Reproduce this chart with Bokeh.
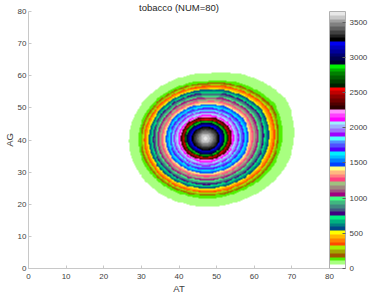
import numpy as np
from bokeh.plotting import figure
from bokeh.models import Range1d, FixedTicker, ColorBar, LinearColorMapper
from bokeh.embed import file_html
from bokeh.resources import INLINE

# ---- data ----
title_text = "tobacco (NUM=80)"
x_label = "AT"
y_label = "AG"
axis_ticks = [0, 10, 20, 30, 40, 50, 60, 70, 80]
cbar_ticks = [0, 500, 1000, 1500, 2000, 2500, 3000, 3500]
z_max = 3650

# peak position (AT, AG)
peak_at = 47.1
peak_ag = 40.5

# radial profile of the density (canonical radius vs value)
profile_r = [0.0, 1.5, 3.9, 5.3, 6.1, 7.2, 12.0, 16.8, 19.2, 20.1, 23.1, 26.0, 200.0]
profile_v = [3640, 3520, 3206, 2853, 2510, 2172, 1340, 510, 161, 107, 54, 0, 0]

# outer boundary radius by direction (degrees)
dir_angle = [0, 30, 60, 90, 120, 150, 180, 210, 240, 270, 300, 330]
dir_radius = [23.6, 24.6, 22.5, 20.0, 19.8, 19.9, 20.1, 20.6, 21.0, 21.1, 21.6, 22.8]

# colour bands, low to high
band_colors = [
    "#ffffff", "#a8ff80", "#50f000", "#a05800", "#a0a800", "#a8f000",
    "#ff4800", "#ff8000", "#ffb800", "#ffff00",
    "#004888", "#008080", "#00b080", "#00f080",
    "#400080", "#405880", "#408880", "#40b880", "#40ff80",
    "#a00080", "#a05080", "#a08880", "#a0c080",
    "#ff4080", "#ff8080", "#ffb880", "#ffff80",
    "#0040ff", "#0080ff", "#00c0ff", "#00f0ff",
    "#5000ff", "#5050ff", "#5090ff", "#50ffff",
    "#a000ff", "#a070ff", "#a0b0ff", "#a0f0ff",
    "#ff00ff", "#ff40ff", "#ff90ff",
    "#300000", "#500000", "#700000", "#900000", "#c00000", "#ff0000",
    "#002000", "#004000", "#006000", "#008000", "#00b000", "#00f000",
    "#000030", "#000050", "#000070", "#000098", "#0000c0", "#0000f0",
    "#000000", "#202020", "#404040", "#606060", "#808080", "#a0a0a0",
    "#c8c8c8", "#e8e8e8",
]

# ---- build the field ----
canon_outer = 23.1
n_grid = 321
gx = np.linspace(0, 80, n_grid)
gy = np.linspace(0, 80, n_grid)
X, Y = np.meshgrid(gx, gy)
dx = X - peak_at
dy = Y - peak_ag
r0 = np.hypot(dx, dy)
theta = np.degrees(np.arctan2(dy, dx)) % 360
S = np.interp(theta, dir_angle, np.array(dir_radius) / canon_outer, period=360)
scale = 1 + (S - 1) * np.clip(r0 / 22.0, 0, 1)
r_eff = r0 / scale
Z = np.interp(r_eff, profile_r, profile_v)

FONT = "Liberation Sans"

p = figure(width=370, height=296, output_backend="svg", toolbar_location=None,
           x_range=Range1d(0, 80), y_range=Range1d(0, 80),
           min_border_left=27, min_border_right=0, min_border_top=11,
           min_border_bottom=27, background_fill_color="white",
           border_fill_color="white")

mapper = LinearColorMapper(palette=band_colors, low=0, high=z_max)
p.image(image=[Z], x=0, y=0, dw=80, dh=80, color_mapper=mapper)

p.title.text = title_text
p.title.align = "center"
p.title.text_font = FONT
p.title.text_font_size = "9.5px"
p.title.text_font_style = "normal"
p.title.text_color = "#262626"
p.title.standoff = -3
p.title.offset = 0

for ax in (p.xaxis[0], p.yaxis[0]):
    ax.ticker = FixedTicker(ticks=axis_ticks)
    ax.axis_line_color = "#c8c8c8"
    ax.major_tick_line_color = "#c8c8c8"
    ax.major_tick_in = 3
    ax.major_tick_out = 0
    ax.minor_tick_line_color = None
    ax.major_label_text_font = FONT
    ax.major_label_text_font_size = "8px"
    ax.major_label_text_color = "#404040"
    ax.axis_label_text_font = FONT
    ax.axis_label_text_font_size = "9.5px"
    ax.axis_label_text_font_style = "normal"
    ax.axis_label_text_color = "#404040"

p.xaxis.major_label_standoff = 5
p.xaxis.axis_label_standoff = 1
p.yaxis.major_label_standoff = 2
p.yaxis.axis_label_standoff = 0
p.xaxis.axis_label = x_label
p.yaxis.axis_label = y_label
p.grid.visible = False
p.outline_line_color = None

cb = ColorBar(color_mapper=mapper, ticker=FixedTicker(ticks=cbar_ticks),
              width=16, margin=14, padding=0,
              bar_line_color="#b0b0b0", major_tick_line_color="#606060",
              major_tick_in=3, major_tick_out=0, minor_tick_line_color=None,
              major_label_text_font=FONT, major_label_text_font_size="8px",
              major_label_text_color="#404040", label_standoff=4,
              background_fill_color=None, border_line_color=None)
p.add_layout(cb, "right")

open("out.html", "w").write(file_html(p, INLINE))
